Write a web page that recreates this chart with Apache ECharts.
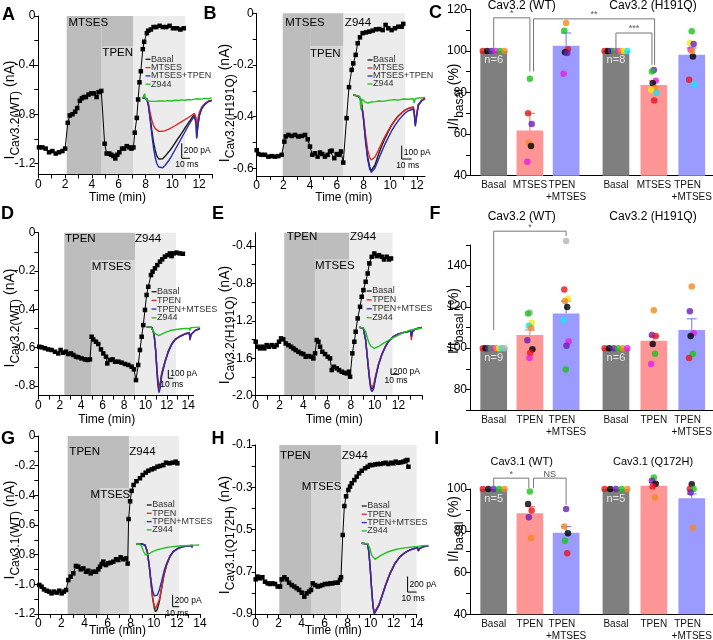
<!DOCTYPE html>
<html><head><meta charset="utf-8">
<script src="https://cdn.jsdelivr.net/npm/echarts@6/dist/echarts.min.js"></script>
<style>html,body{margin:0;padding:0;background:#fff}#c{width:713px;height:640px}</style>
</head><body><div id="c"></div>
<script>
// ================= DATA =================
// time courses [min, nA]
const tcA = [[0.05,-1.07],[0.3,-1.07],[0.55,-1.08],[0.8,-1.11],[1.05,-1.10],[1.3,-1.12],[1.55,-1.11],[1.8,-1.10],[2.0,-1.08],[2.2,-0.87],[2.35,-0.81],[2.55,-0.80],[2.75,-0.78],[2.9,-0.75],[3.1,-0.69],[3.25,-0.67],[3.4,-0.66],[3.55,-0.66],[3.75,-0.64],[3.95,-0.63],[4.15,-0.63],[4.35,-0.66],[4.5,-0.62],[4.7,-0.61],[4.95,-1.04],[5.1,-1.12],[5.3,-1.12],[5.45,-1.13],[5.6,-1.14],[5.75,-1.16],[5.9,-1.13],[6.05,-1.11],[6.25,-1.08],[6.4,-1.08],[6.6,-1.06],[6.8,-1.07],[6.95,-1.08],[7.1,-1.07],[7.2,-0.95],[7.35,-0.83],[7.45,-0.68],[7.55,-0.54],[7.65,-0.45],[7.8,-0.27],[7.9,-0.21],[8.1,-0.14],[8.2,-0.12],[8.4,-0.11],[8.6,-0.09],[8.8,-0.09],[9.05,-0.08],[9.3,-0.09],[9.55,-0.09],[9.8,-0.08],[10.05,-0.10],[10.35,-0.10],[10.6,-0.11],[10.85,-0.10]];
const tcB = [[0,-0.53],[0.12,-0.545],[0.37,-0.548],[0.62,-0.548],[0.87,-0.555],[1.12,-0.553],[1.37,-0.555],[1.62,-0.553],[1.87,-0.548],[2.07,-0.497],[2.17,-0.477],[2.37,-0.471],[2.62,-0.475],[2.87,-0.471],[3.12,-0.477],[3.37,-0.475],[3.62,-0.471],[3.82,-0.488],[3.99,-0.516],[4.16,-0.548],[4.36,-0.542],[4.56,-0.555],[4.74,-0.539],[4.91,-0.545],[5.11,-0.555],[5.31,-0.548],[5.49,-0.535],[5.61,-0.532],[5.81,-0.561],[5.99,-0.545],[6.16,-0.548],[6.31,-0.535],[6.48,-0.578],[6.73,-0.406],[6.91,-0.286],[7.11,-0.219],[7.23,-0.194],[7.41,-0.161],[7.56,-0.116],[7.73,-0.093],[7.93,-0.077],[8.18,-0.074],[8.43,-0.071],[8.68,-0.067],[8.93,-0.062],[9.18,-0.061],[9.43,-0.065],[9.65,-0.045],[9.85,-0.058],[10.1,-0.065],[10.35,-0.058],[10.6,-0.052],[10.85,-0.052],[10.97,-0.041]];
const tcD = [[0.09,-0.595],[0.31,-0.598],[0.62,-0.603],[0.93,-0.609],[1.24,-0.612],[1.56,-0.621],[1.87,-0.63],[2.08,-0.612],[2.33,-0.626],[2.58,-0.621],[2.8,-0.633],[3.05,-0.63],[3.27,-0.638],[3.52,-0.647],[3.73,-0.65],[4.04,-0.656],[4.36,-0.661],[4.57,-0.664],[4.82,-0.661],[4.98,-0.543],[5.13,-0.557],[5.38,-0.569],[5.6,-0.581],[5.85,-0.609],[6.07,-0.63],[6.32,-0.647],[6.44,-0.682],[6.69,-0.664],[6.94,-0.661],[7.16,-0.673],[7.47,-0.673],[7.78,-0.678],[8.09,-0.685],[8.4,-0.69],[8.71,-0.699],[8.93,-0.713],[9.12,-0.769],[9.33,-0.69],[9.49,-0.612],[9.65,-0.543],[9.8,-0.482],[9.96,-0.403],[10.11,-0.325],[10.27,-0.282],[10.52,-0.221],[10.67,-0.203],[10.89,-0.186],[11.11,-0.169],[11.36,-0.151],[11.57,-0.139],[11.82,-0.125],[12.07,-0.117],[12.29,-0.108],[12.45,-0.122],[12.66,-0.108],[12.91,-0.104],[13.2,-0.108],[13.5,-0.11]];
const tcE = [[0,-1.424],[0.17,-1.477],[0.36,-1.495],[0.56,-1.477],[0.73,-1.495],[0.92,-1.46],[1.12,-1.477],[1.34,-1.46],[1.57,-1.477],[1.76,-1.46],[1.96,-1.424],[2.13,-1.388],[2.32,-1.399],[2.52,-1.442],[2.75,-1.46],[2.97,-1.477],[3.17,-1.495],[3.36,-1.513],[3.59,-1.531],[3.81,-1.548],[4.01,-1.556],[4.2,-1.584],[4.43,-1.577],[4.65,-1.584],[4.85,-1.602],[4.99,-1.548],[5.13,-1.406],[5.27,-1.424],[5.41,-1.477],[5.6,-1.531],[5.83,-1.556],[6.05,-1.584],[6.25,-1.602],[6.39,-1.726],[6.58,-1.691],[6.81,-1.708],[7.0,-1.726],[7.23,-1.744],[7.45,-1.755],[7.65,-1.762],[7.84,-1.744],[7.93,-1.797],[8.12,-1.548],[8.29,-1.424],[8.4,-1.317],[8.57,-1.175],[8.77,-1.051],[8.91,-0.944],[9.05,-0.873],[9.24,-0.784],[9.41,-0.695],[9.55,-0.588],[9.75,-0.517],[9.97,-0.482],[10.17,-0.51],[10.36,-0.5],[10.59,-0.517],[10.78,-0.546],[11.0,-0.517],[11.2,-0.546],[11.37,-0.535]];
const tcG = [[0.09,-1.004],[0.29,-1.016],[0.49,-1.034],[0.72,-1.043],[0.95,-1.049],[1.15,-1.061],[1.36,-1.049],[1.59,-1.056],[1.82,-1.043],[2.02,-1.061],[2.22,-1.049],[2.4,-1.038],[2.6,-0.971],[2.8,-0.948],[3.03,-0.926],[3.26,-0.876],[3.46,-0.881],[3.67,-0.899],[3.9,-0.892],[4.13,-0.915],[4.33,-0.908],[4.53,-0.926],[4.76,-0.915],[4.99,-0.915],[5.2,-0.899],[5.34,-0.881],[5.49,-0.863],[5.63,-0.847],[5.86,-0.87],[6.06,-0.858],[6.26,-0.854],[6.5,-0.847],[6.73,-0.831],[6.93,-0.836],[7.13,-0.818],[7.36,-0.831],[7.59,-0.825],[7.74,-0.86],[7.82,-0.56],[7.95,-0.44],[8.08,-0.37],[8.25,-0.33],[8.5,-0.305],[8.8,-0.285],[9.04,-0.263],[9.3,-0.247],[9.53,-0.234],[9.82,-0.225],[10.05,-0.218],[10.31,-0.207],[10.54,-0.202],[10.83,-0.196],[11.06,-0.18],[11.35,-0.184],[11.63,-0.18],[11.89,-0.173],[12.04,-0.184]];
const tcH = [[0,-0.736],[0.17,-0.723],[0.38,-0.731],[0.58,-0.726],[0.81,-0.747],[1.04,-0.755],[1.25,-0.758],[1.45,-0.755],[1.68,-0.758],[1.91,-0.77],[2.12,-0.77],[2.26,-0.736],[2.49,-0.726],[2.7,-0.736],[2.9,-0.752],[3.13,-0.763],[3.36,-0.77],[3.57,-0.778],[3.77,-0.786],[4.0,-0.799],[4.23,-0.818],[4.43,-0.802],[4.64,-0.794],[4.81,-0.786],[4.96,-0.755],[5.16,-0.763],[5.39,-0.77],[5.59,-0.767],[5.8,-0.763],[6.03,-0.758],[6.26,-0.758],[6.46,-0.755],[6.67,-0.755],[6.9,-0.752],[7.13,-0.752],[7.33,-0.739],[7.42,-0.726],[7.57,-0.526],[7.71,-0.389],[7.86,-0.343],[8.06,-0.313],[8.2,-0.297],[8.35,-0.281],[8.58,-0.266],[8.78,-0.25],[8.99,-0.234],[9.22,-0.222],[9.51,-0.21],[9.74,-0.203],[9.94,-0.195],[10.14,-0.195],[10.38,-0.192],[10.61,-0.19],[10.84,-0.19],[11.1,-0.187],[11.3,-0.184],[11.54,-0.19],[11.77,-0.184],[11.97,-0.187],[12.17,-0.179],[12.41,-0.184],[12.64,-0.182],[12.84,-0.179],[13.04,-0.174],[13.19,-0.171],[13.28,-0.203]];

// drug application times [start1, start2, start3, end] (min) and level of the upper band (nA)
const shadeA = [2.12, 4.73, 7.1, 10.96],  bandA = -0.25;
const shadeB = [1.95, 4.0, 6.5, 11.1],    bandB = -0.129;
const shadeD = [2.43, 4.92, 9.03, 12.86], bandD = -0.142;
const shadeE = [2.4, 4.98, 7.86, 11.5],   bandE = -0.55;
const shadeG = [2.54, 5.34, 7.85, 12.18], bandG = -0.35;
const shadeH = [2.05, 4.81, 7.42, 14.0],  bandH = -0.274;

// tick values
const xTicks12 = [0,1,2,3,4,5,6,7,8,9,10,11,12,13];
const xLabels12 = [0,2,4,6,8,10,12];
const xTicks14 = [0,1,2,3,4,5,6,7,8,9,10,11,12,13,14];
const xLabels14 = [0,2,4,6,8,10,12,14];
const yTicksA = [0,-0.2,-0.4,-0.6,-0.8,-1.0,-1.2], yLabelsA = [0,-0.4,-0.8,-1.2];
const yTicksB = [0,-0.1,-0.2,-0.3,-0.4,-0.5,-0.6], yLabelsB = [0,-0.2,-0.4,-0.6];
const yTicksD = [0,-0.1,-0.2,-0.3,-0.4,-0.5,-0.6,-0.7,-0.8], yLabelsD = [0,-0.2,-0.4,-0.6,-0.8];
const yTicksE = [-0.4,-0.6,-0.8,-1.0,-1.2,-1.4,-1.6,-1.8,-2.0], yLabelsE = [-0.4,-0.8,-1.2,-1.6,-2.0];
const yTicksG = [0,-0.1,-0.2,-0.3,-0.4,-0.5,-0.6,-0.7,-0.8,-0.9,-1.0,-1.1,-1.2], yLabelsG = [0,-0.2,-0.4,-0.6,-0.8,-1.0,-1.2];
const yTicksH = [-0.1,-0.2,-0.3,-0.4,-0.5,-0.6,-0.7,-0.8,-0.9], yLabelsH = [-0.1,-0.3,-0.5,-0.7,-0.9];
const yTicksC = [40,50,60,70,80,90,100,110,120], yLabelsC = [40,60,80,100,120];
const yTicksF = [70,80,90,100,110,120,130,140,150], yLabelsF = [80,100,120,140];
const yTicksI = [40,50,60,70,80,90,100], yLabelsI = [40,60,80,100];

// inset current traces [ms, pA]
const insA_basal = [[0,0],[4.8,-9],[6.8,-89],[8.8,-244],[10.8,-422],[12.8,-578],[14.8,-689],[16.8,-769],[19.2,-813],[21.6,-822],[24,-809],[26.8,-778],[30.8,-724],[34.8,-667],[38.8,-600],[42.8,-533],[46.8,-467],[50.8,-400],[54.8,-333],[58.8,-267],[62,-222],[63.2,-209],[64,-311],[64.8,-520],[66,-378],[68,-222],[70.8,-133],[74.8,-76],[78.8,-44],[82.8,-31]];
const insA_drug1 = [[0,0],[4.8,-9],[6.8,-70],[8.8,-190],[10.8,-290],[12.8,-360],[14.8,-405],[16.8,-430],[19.2,-445],[21.6,-448],[24,-444],[26.8,-435],[30.8,-418],[34.8,-395],[38.8,-370],[42.8,-342],[46.8,-315],[50.8,-288],[54.8,-260],[58.8,-232],[62,-205],[63.2,-198],[64,-260],[64.8,-380],[66,-290],[68,-190],[70.8,-120],[74.8,-70],[78.8,-40],[82.8,-28]];
const insA_drug2 = [[0,0],[4.8,-9],[6.8,-100],[8.8,-275],[10.8,-475],[12.8,-650],[14.8,-780],[16.8,-870],[19.2,-920],[21.6,-940],[24,-930],[26.8,-900],[30.8,-840],[34.8,-770],[38.8,-690],[42.8,-610],[46.8,-530],[50.8,-450],[54.8,-370],[58.8,-295],[62,-245],[63.2,-235],[64,-340],[64.8,-540],[66,-400],[68,-240],[70.8,-145],[74.8,-85],[78.8,-50],[82.8,-35]];
const insA_z944 = [[0,0],[1.6,5],[2.4,60],[3.2,-10],[4.8,-20],[6.8,-40],[8.8,-50],[10.8,-45],[12.8,-55],[14.8,-45],[16.8,-50],[19.2,-40],[21.6,-48],[24,-38],[26.8,-42],[30.8,-35],[34.8,-40],[38.8,-30],[42.8,-34],[46.8,-25],[50.8,-30],[54.8,-20],[58.8,-25],[62,-15],[64,-30],[66,-10],[70.8,-15],[74.8,-5],[78.8,-10],[82.8,5]];
const insB_basal = [[0,0],[5,-8],[7.7,-38],[10,-163],[12.3,-338],[14.3,-463],[16.4,-538],[18,-568],[19.7,-563],[21.7,-525],[25,-450],[28.4,-383],[31.7,-325],[35,-275],[38.4,-225],[41.7,-188],[45,-158],[48.4,-133],[51.7,-113],[55,-100],[60,-93],[61,-138],[62,-225],[63.4,-150],[65,-70],[68.4,-40],[71.7,-25]];
const insB_drug1 = [[0,0],[5,-8],[7.7,-35],[10,-150],[12.3,-300],[14.3,-410],[16.4,-470],[18,-487],[19.7,-487],[21.7,-465],[25,-415],[28.4,-360],[31.7,-310],[35,-265],[38.4,-225],[41.7,-190],[45,-160],[48.4,-135],[51.7,-115],[55,-100],[60,-88],[61,-130],[62,-210],[63.4,-145],[65,-70],[68.4,-38],[71.7,-22]];
const insB_drug2 = [[0,0],[5,-8],[7.7,-40],[10,-170],[12.3,-350],[14.3,-480],[16.4,-555],[18,-580],[19.7,-578],[21.7,-548],[25,-485],[28.4,-425],[31.7,-368],[35,-318],[38.4,-268],[41.7,-228],[45,-192],[48.4,-162],[51.7,-137],[55,-118],[60,-105],[61,-150],[62,-235],[63.4,-160],[65,-80],[68.4,-45],[71.7,-28]];
const insB_z944 = [[0,0],[4,-5],[6.5,-10],[7.7,-110],[8.5,-30],[10,-45],[12,-55],[15,-60],[18,-52],[22,-50],[26,-45],[30,-48],[35,-40],[40,-35],[45,-38],[50,-30],[55,-32],[60,-28],[61,-60],[62,-25],[66,-22],[71.7,-18]];
const insD_basal = [[0,0],[10,-8],[14.6,-80],[18,-280],[20.6,-520],[22.6,-660],[24.6,-720],[27,-680],[30,-560],[36.6,-413],[43.2,-293],[50,-205],[56.6,-153],[66.6,-113],[76.6,-85],[85.2,-73],[86.6,-153],[88.6,-93],[96.6,-45],[106.6,-21]];
const insD_drug1 = [[0,0],[10,-8],[14.6,-82],[18,-285],[20.6,-530],[22.6,-680],[24.6,-745],[27,-700],[30,-570],[36.6,-418],[43.2,-296],[50,-207],[56.6,-155],[66.6,-114],[76.6,-86],[85.2,-74],[86.6,-165],[88.6,-95],[96.6,-46],[106.6,-22]];
const insD_drug2 = [[0,0],[10,-8],[14.6,-90],[18,-300],[20.6,-560],[22.6,-720],[24.6,-790],[27,-740],[30,-590],[36.6,-430],[43.2,-305],[50,-215],[56.6,-160],[66.6,-118],[76.6,-88],[85.2,-75],[86.6,-150],[88.6,-95],[96.6,-48],[106.6,-22]];
const insD_z944 = [[0,0],[4,12],[8,-5],[12,-40],[16,-80],[20,-100],[24,-108],[28,-95],[34,-78],[40,-62],[48,-46],[56,-36],[66,-28],[76,-22],[85,-20],[86.6,-45],[88,-12],[96,-8],[106.6,-5]];
const insE_basal = [[0,0],[5,-33],[7.9,-420],[10.4,-1090],[12.5,-1645],[14.2,-1980],[15.8,-2060],[17.9,-1980],[20.4,-1645],[23.8,-1255],[27.9,-920],[32.1,-665],[36.2,-475],[42.5,-310],[48.7,-220],[55,-175],[61.2,-140],[64.2,-110],[65,-330],[66.2,-140],[69.6,-65],[73.7,-33],[77.9,0]];
const insE_drug1 = [[0,0],[5,-33],[7.9,-400],[10.4,-1050],[12.5,-1590],[14.2,-1920],[15.8,-1990],[17.9,-1920],[20.4,-1600],[23.8,-1230],[27.9,-905],[32.1,-655],[36.2,-470],[42.5,-305],[48.7,-220],[55,-172],[61.2,-140],[64.2,-115],[65,-420],[66.2,-150],[69.6,-65],[73.7,-33],[77.9,0]];
const insE_drug2 = [[0,0],[5,-33],[7.9,-440],[10.4,-1130],[12.5,-1700],[14.2,-2050],[15.8,-2147],[17.9,-2050],[20.4,-1690],[23.8,-1280],[27.9,-935],[32.1,-675],[36.2,-480],[42.5,-315],[48.7,-225],[55,-178],[61.2,-145],[64.2,-115],[65,-300],[66.2,-140],[69.6,-65],[73.7,-33],[77.9,0]];
const insE_z944 = [[0,0],[5,-20],[8,-150],[10.4,-380],[12.5,-540],[15,-640],[18.7,-700],[21,-690],[24,-640],[28,-570],[32,-500],[36,-440],[40.5,-367],[46,-300],[53,-200],[60,-130],[64.2,-90],[65,-120],[66.2,-80],[72,-50],[77.9,-30]];
const insG_basal = [[0,0],[8.5,0],[13.5,-17],[17,-132],[20,-390],[22.5,-676],[25,-935],[27.5,-1107],[29.5,-1164],[32,-1124],[35,-992],[38.5,-763],[42,-533],[46,-361],[51,-218],[56,-132],[63.5,-75],[71,-46],[78.5,-34],[82,-28],[84,-40],[85,-25]];
const insG_drug1 = [[0,0],[8.5,0],[13.5,-17],[17,-132],[20,-390],[22.5,-670],[25,-920],[27.5,-1070],[29.5,-1107],[32,-1080],[35,-960],[38.5,-745],[42,-525],[46,-355],[51,-215],[56,-130],[63.5,-74],[71,-46],[78.5,-34],[82,-27],[84,-38],[85,-24]];
const insG_drug2 = [[0,0],[8.5,0],[13.5,-17],[17,-130],[20,-380],[22.5,-620],[25,-810],[27.5,-890],[29.5,-906],[32,-880],[35,-790],[38.5,-640],[42,-470],[46,-330],[51,-205],[56,-128],[63.5,-72],[71,-45],[78.5,-34],[82,-25],[84,-60],[85,-20]];
const insG_z944 = [[0,0],[2,20],[5,0],[8.5,-40],[11,-120],[14.5,-190],[18,-180],[22,-150],[26,-125],[30,-105],[35,-90],[40,-75],[46,-60],[52,-50],[58,-42],[65,-35],[72,-30],[80,-25],[88,-20],[95,-18]];
const insH_basal = [[0,0],[6.7,-9],[8.1,-128],[9.6,-341],[11.1,-597],[12.6,-811],[14.1,-896],[16.3,-875],[19.2,-789],[22.9,-661],[26.6,-533],[31.5,-384],[37,-256],[42.6,-171],[48.1,-119],[53.6,-85],[59.2,-64],[62.1,-55],[62.9,-94],[64.7,-64],[68.4,-43],[74,-34]];
const insH_drug1 = [[0,0],[6.7,-9],[8.1,-125],[9.6,-335],[11.1,-590],[12.6,-800],[14.1,-885],[16.3,-868],[19.2,-780],[22.9,-652],[26.6,-525],[31.5,-378],[37,-252],[42.6,-168],[48.1,-117],[53.6,-84],[59.2,-63],[62.1,-54],[62.9,-90],[64.7,-62],[68.4,-42],[74,-33]];
const insH_drug2 = [[0,0],[6.7,-9],[8.1,-130],[9.6,-345],[11.1,-605],[12.6,-820],[14.1,-902],[16.3,-880],[19.2,-795],[22.9,-668],[26.6,-540],[31.5,-390],[37,-260],[42.6,-174],[48.1,-121],[53.6,-86],[59.2,-65],[62.1,-56],[62.9,-100],[64.7,-66],[68.4,-44],[74,-35]];
const insH_z944 = [[0,0],[6.7,-5],[9,-60],[11,-150],[14.8,-205],[17,-190],[20,-165],[24,-140],[28,-115],[33,-95],[38,-80],[44,-65],[50,-55],[56,-48],[62,-40],[62.9,-55],[64,-35],[68,-30],[74,-28]];

// bar charts: categories, means, SEM, individual cells (values + cell id letters)
const catsC = ['Basal', 'MTSES', 'TPEN   \n+MTSES'];
const catsF = ['Basal', 'TPEN', 'TPEN   \n+MTSES'];
const meanC_WT = [100, 61.7, 102.5],  semC_WT = [0, 8.3, 6.1];
const meanC_H  = [100, 83.6, 98.2],   semC_H  = [0, 2.0, 3.2];
const meanF_WT = [100, 106.4, 116.8], semF_WT = [0, 2.4, 6.0];
const meanF_H  = [100, 103.6, 108.8], semF_H  = [0, 2.2, 5.4];
const meanI_WT = [100, 88.4, 79.0],   semI_WT = [0, 3.2, 3.0];
const meanI_Q  = [100, 101.5, 95.6],  semI_Q  = [0, 1.5, 2.0];

const cWT_basal_id = 'rkpmgo';
const cWT_mtses = [86.6, 70.0, 64.9, 55.9, 54.3, 46.7], cWT_mtses_id = 'grpokm';
const cWT_tm = [113.4, 109.7, 100.8, 99.3, 99.0, 89.0], cWT_tm_id = 'ogrkpm';
const cH_basal_id = 'rkpgmoyc';
const cH_mtses = [90.8, 90.1, 85.6, 84.5, 82.1, 81.3, 79.7, 76.1], cH_mtses_id = 'pgmkoycr';
const cH_tm = [109.4, 103.8, 103.3, 100.6, 97.3, 86.1, 83.7, 100.0], cH_tm_id = 'gypmkrco';
const fWT_basal_id = 'rkpgmoycs';
const fWT_tpen = [117.3, 116.8, 112.3, 110.8, 109.9, 103.8, 99.5, 97.6, 95.2], fWT_tpen_id = 'sgycopkrm';
const fWT_tm = [152.0, 128.4, 124.0, 122.8, 120.0, 113.6, 103.2, 101.1, 89.6], fWT_tm_id = 'sryokcmpg';
const fH_basal_id = 'rkpgom';
const fH_tpen = [118.4, 106.4, 105.9, 102.0, 97.3, 92.3], fH_tpen_id = 'oprkgm';
const fH_tm = [129.9, 117.9, 107.2, 105.9, 97.3, 95.2], fH_tm_id = 'opmkgr';
const iWT_basal_id = 'rkpgo';
const iWT_tpen = [98.8, 92.8, 89.7, 86.5, 76.5], iWT_tpen_id = 'gkrpo';
const iWT_tm = [90.4, 82.0, 78.8, 75.2, 69.2], iWT_tm_id = 'pokgr';
const iQ_basal_id = 'rkpgo';
const iQ_tpen = [105.5, 103.9, 102.5, 101.2, 95.9], iQ_tpen_id = 'gpkro';
const iQ_tm = [102.3, 100.0, 100.0, 98.3, 81.5], iQ_tm_id = 'krgpo';

// ================= STYLE / BUILD =================
const FONT = "'Liberation Sans', Arial, Helvetica, sans-serif";
const SHADE = ['#bdbdbd', '#d5d5d5', '#ececec'];
const TRACE = ['#1a1a1a', '#e02828', '#2a2ab4', '#22c222'];
const BAR = ['#7f7f7f', '#ff9595', '#9a9aff'];
const ERR = ['#7f7f7f', '#f07070', '#7070f0'];
const CELL = {r:'#e8141c', k:'#000000', p:'#6a1fb0', m:'#e61ee6', g:'#18c418', o:'#f28a1e', y:'#f2ea14', c:'#14e6f2', s:'#b4b4b4'};

const option = {animation:false, backgroundColor:'#fff', grid:[], xAxis:[], yAxis:[], series:[]};
function addGrid(l, t, r, b){ option.grid.push({left:l, top:t, width:r-l, height:b-t, containLabel:false, outerBoundsMode:'none', show:false}); return option.grid.length-1; }
function addX(o){ option.xAxis.push(o); return option.xAxis.length-1; }
function addY(o){ option.yAxis.push(o); return option.yAxis.length-1; }
const fmt1 = v => (Math.abs(v) < 1e-9 ? '0' : v.toFixed(1));

function timePanel(box, xmax, ymin, ymax, xt, xl, yt, yl, data, shade, band){
  const gi = addGrid(box[0], box[1], box[2], box[3]);
  const xi = addX({type:'value', gridIndex:gi, min:0, max:xmax,
    axisLine:{show:true, onZero:false, lineStyle:{color:'#000', width:1}},
    axisTick:{show:true, length:4, customValues:xt, lineStyle:{color:'#000'}},
    axisLabel:{show:true, customValues:xl, margin:4, fontSize:12, color:'#000', fontFamily:FONT},
    splitLine:{show:false}});
  const yi = addY({type:'value', gridIndex:gi, min:ymin, max:ymax,
    axisLine:{show:true, onZero:false, lineStyle:{color:'#000', width:1}},
    axisTick:{show:true, length:4, customValues:yt, lineStyle:{color:'#000'}},
    axisLabel:{show:true, customValues:yl, formatter:fmt1, margin:3, fontSize:12, color:'#000', fontFamily:FONT},
    splitLine:{show:false}});
  const rects = [[shade[0], shade[1], ymax, ymin, 0], [shade[1], shade[2], ymax, band, 0],
                 [shade[1], shade[2], band, ymin, 1], [shade[2], shade[3], ymax, ymin, 2]];
  option.series.push({type:'custom', xAxisIndex:xi, yAxisIndex:yi, z:0, silent:true, data:rects,
    renderItem:(p, api) => { const a = api.coord([api.value(0), api.value(2)]), b = api.coord([api.value(1), api.value(3)]);
      return {type:'rect', shape:{x:a[0], y:a[1], width:b[0]-a[0], height:b[1]-a[1]}, style:{fill:SHADE[api.value(4)]}}; }});
  option.series.push({type:'line', xAxisIndex:xi, yAxisIndex:yi, data:data, z:5, clip:false, symbol:'rect', symbolSize:4.5,
    itemStyle:{color:'#000'}, lineStyle:{color:'#000', width:1}, silent:true});
  return gi;
}
function insetPanel(x0, w, ms, base, k, traces){
  const gi = addGrid(x0, base-15, x0+w, base+85);
  const xi = addX({type:'value', gridIndex:gi, min:0, max:ms, show:false});
  const yi = addY({type:'value', gridIndex:gi, min:-85*k, max:15*k, show:false});
  traces.forEach((d, i) => option.series.push({type:'line', xAxisIndex:xi, yAxisIndex:yi, data:d, showSymbol:false, symbol:'none',
    clip:false, z:6+i, lineStyle:{color:TRACE[i], width:1.4}, silent:true}));
  return gi;
}
function barMain(top, bottom, ymin, ymax, yt, yl){
  const gi = addGrid(470, top, 713, bottom);
  addX({type:'value', gridIndex:gi, min:0, max:1, axisLine:{show:true, onZero:false, lineStyle:{color:'#000'}},
    axisTick:{show:false}, axisLabel:{show:false}, splitLine:{show:false}});
  addY({type:'value', gridIndex:gi, min:ymin, max:ymax,
    axisLine:{show:true, onZero:false, lineStyle:{color:'#000'}},
    axisTick:{show:true, length:4, customValues:yt, lineStyle:{color:'#000'}},
    axisLabel:{show:true, customValues:yl, margin:3, fontSize:12, color:'#000', fontFamily:FONT}, splitLine:{show:false}});
  return {top, bottom, ymin, ymax};
}
function jit(i){ return [0, -0.05, 0.05, -0.03, 0.03, -0.07, 0.07, 0.01, -0.01][i % 9]; }
function barGroup(m, left, right, cats, means, sems, nLabel, basalIds, groups){
  const extra = 40, ppu = (m.bottom - m.top) / (m.ymax - m.ymin);
  const gi = addGrid(left, m.top - extra, right, m.bottom);
  const xc = addX({type:'category', gridIndex:gi, data:cats, axisLine:{show:false}, axisTick:{show:false},
    axisLabel:{show:true, margin:4, fontSize:10, color:'#111', fontFamily:FONT, lineHeight:12, interval:0}});
  const xv = addX({type:'value', gridIndex:gi, min:-0.5, max:2.5, show:false});
  const yv = addY({type:'value', gridIndex:gi, min:m.ymin, max:m.ymax + extra/ppu, show:false});
  option.series.push({type:'bar', xAxisIndex:xc, yAxisIndex:yv, barWidth:26.7, z:2, silent:true,
    data: means.map((v, i) => ({value:v, itemStyle:{color:BAR[i]},
      label: i === 0 ? {show:true, position:'insideTop', distance:4, formatter:nLabel, color:'#e6e6e6', fontSize:11, fontFamily:FONT} : {show:false}}))});
  option.series.push({type:'custom', xAxisIndex:xv, yAxisIndex:yv, z:3, silent:true,
    data: means.map((v, i) => [i, v, v + sems[i], i]).filter(d => d[2] > d[1]),
    renderItem:(p, api) => { const a = api.coord([api.value(0), api.value(1)]), b = api.coord([api.value(0), api.value(2)]);
      const c = ERR[api.value(3)];
      return {type:'group', children:[
        {type:'line', shape:{x1:a[0], y1:a[1], x2:b[0], y2:b[1]}, style:{stroke:c, lineWidth:1}},
        {type:'line', shape:{x1:b[0]-5, y1:b[1], x2:b[0]+5, y2:b[1]}, style:{stroke:c, lineWidth:1}}]}; }});
  const pts = [];
  const n = basalIds.length;
  for (let i = 0; i < n; i++) pts.push({value:[-0.3 + 0.6*i/(n-1), 100], itemStyle:{color:CELL[basalIds[i]]}});
  groups.forEach((g, gi2) => g[0].forEach((v, i) => pts.push({value:[gi2 + 1 + jit(i), v], itemStyle:{color:CELL[g[1][i]]}})));
  option.series.push({type:'scatter', xAxisIndex:xv, yAxisIndex:yv, z:4, silent:true, clip:false, symbolSize:6.5, data:pts});
  return {xv, yv};
}

// ---- panels
const gA = timePanel([38.3,16,212.5,174.4], 13, -1.29, 0, xTicks12, xLabels12, yTicksA, yLabelsA, tcA, shadeA, bandA);
const gB = timePanel([256.7,13.3,425,176], 12.6, -0.63, 0, xTicks12.slice(0,13), xLabels12, yTicksB, yLabelsB, tcB, shadeB, bandB);
const gD = timePanel([38.3,232.7,193.6,395.6], 14.5, -0.85, 0, xTicks14, xLabels14, yTicksD, yLabelsD, tcD, shadeD, bandD);
const gE = timePanel([255.7,232.7,422.3,395.7], 14, -2.0, -0.26, xTicks14, xLabels12, yTicksE, yLabelsE, tcE, shadeE, bandE);
const gG = timePanel([38.3,436,200,614], 14, -1.2, 0, xTicks14, xLabels14, yTicksG, yLabelsG, tcG, shadeG, bandG);
const gH = timePanel([255.7,445,416.7,614], 14, -0.9, -0.1, xTicks14, xLabels14, yTicksH, yLabelsH, tcH, shadeH, bandH);

const iA = insetPanel(142.7, 69, 82.8, 98, 13.33, [insA_basal, insA_drug1, insA_drug2, insA_z944]);
const iB = insetPanel(353.3, 71.7, 71.7, 95, 7.5, [insB_basal, insB_drug1, insB_drug2, insB_z944]);
const iD = insetPanel(146.7, 53.3, 106.6, 326.7, 12, [insD_basal, insD_drug1, insD_drug2, insD_z944]);
const iE = insetPanel(359.3, 62.4, 77.9, 327.3, 33.3, [insE_basal, insE_drug1, insE_drug2, insE_z944]);
const iG = insetPanel(136, 63.3, 95, 544, 17.2, [insG_basal, insG_drug1, insG_drug2, insG_z944]);
const iH = insetPanel(361.7, 66.6, 74, 543.3, 12.8, [insH_basal, insH_drug1, insH_drug2, insH_z944]);

const mC = barMain(9.3, 175.7, 40, 120, yTicksC, yLabelsC);
const C1 = barGroup(mC, 475.6, 584.2, catsC, meanC_WT, semC_WT, 'n=6', cWT_basal_id, [[cWT_mtses, cWT_mtses_id], [cWT_tm, cWT_tm_id]]);
const C2 = barGroup(mC, 597, 710.7, catsC, meanC_H, semC_H, 'n=8', cH_basal_id, [[cH_mtses, cH_mtses_id], [cH_tm, cH_tm_id]]);
const mF = barMain(245, 410, 70, 150, yTicksF, yLabelsF);
const F1 = barGroup(mF, 475.6, 584.2, catsF, meanF_WT, semF_WT, 'n=9', fWT_basal_id, [[fWT_tpen, fWT_tpen_id], [fWT_tm, fWT_tm_id]]);
const F2 = barGroup(mF, 597, 710.7, catsF, meanF_H, semF_H, 'n=6', fH_basal_id, [[fH_tpen, fH_tpen_id], [fH_tm, fH_tm_id]]);
const mI = barMain(489, 614.3, 40, 100, yTicksI, yLabelsI);
const I1 = barGroup(mI, 475.6, 584.2, catsF, meanI_WT, semI_WT, 'n=5', iWT_basal_id, [[iWT_tpen, iWT_tpen_id], [iWT_tm, iWT_tm_id]]);
const I2 = barGroup(mI, 597, 710.7, catsF, meanI_Q, semI_Q, 'n=5', iQ_basal_id, [[iQ_tpen, iQ_tpen_id], [iQ_tm, iQ_tm_id]]);

const chart = echarts.init(document.getElementById('c'), null, {renderer:'canvas'});
chart.setOption(option);

// ================= ANNOTATIONS =================
const G = [];
const txt = (x, y, s, size, opt) => G.push(Object.assign({type:'text', x, y, z:50, style:Object.assign({text:s, fill:'#000', font:`${size}px ${FONT}`, align:'center', verticalAlign:'middle'}, (opt||{}).style||{})}, opt && opt.rot ? {rotation:opt.rot} : {}));
const px = (gi, v) => chart.convertToPixel({gridIndex:gi}, v);
const pxa = (ax, v) => chart.convertToPixel({xAxisIndex:ax.xv, yAxisIndex:ax.yv}, v);
// panel letters
[['A',8.5,15],['B',210,14.5],['C',435.5,13.5],['D',7.5,214.5],['E',218,214.5],['F',435,214.5],['G',8,439],['H',218,439],['I',436.7,439.5]]
  .forEach(l => G.push({type:'text', x:l[1], y:l[2], z:50, style:{text:l[0], fill:'#000', font:`bold 18px ${FONT}`, align:'center', verticalAlign:'middle'}}));
// region labels
const regionLabels = [[gA,[['MTSES',2.25,-0.055],['TPEN',4.78,-0.30]]],
  [gB,[['MTSES',2.13,-0.036],['TPEN',3.99,-0.155],['Z944',6.6,-0.036]]],
  [gD,[['TPEN',2.49,-0.034],['MTSES',4.98,-0.18],['Z944',9.03,-0.034]]],
  [gE,[['TPEN',2.6,-0.303],['MTSES',4.98,-0.612],['Z944',7.92,-0.303]]],
  [gG,[['TPEN',2.69,-0.106],['MTSES',4.53,-0.398],['Z944',7.88,-0.106]]],
  [gH,[['TPEN',2.11,-0.152],['MTSES',4.0,-0.297],['Z944',7.48,-0.152]]]];
regionLabels.forEach(([gi, arr]) => arr.forEach(([s, t, v]) => { const p = px(gi, [t, v]); txt(p[0], p[1], s, 11.5, {style:{align:'left'}}); }));
// time axis names
[[117.5,197.5],[343.7,197.3],[106.7,419.3],[334.2,419.3],[117.5,631],[333.3,631]].forEach(p => txt(p[0], p[1], 'Time (min)', 12));
// y axis names (rotated, with subscript)
const richY = {m:{fontSize:14, fontFamily:FONT, fill:'#000', lineHeight:24, verticalAlign:'middle'}, s:{fontSize:12, fontFamily:FONT, fill:'#000', lineHeight:12, verticalAlign:'bottom'}};
const yName = (x, y, sub, unit) => G.push({type:'text', x, y, z:50, rotation:Math.PI/2, style:{text:`{m|I}{s|${sub}}{m| (${unit})}`, rich:richY, align:'center', verticalAlign:'middle', font:`14px ${FONT}`}});
yName(10, 110, 'Cav3.2(WT)', 'nA'); yName(225, 103, 'Cav3.2(H191Q)', 'nA');
yName(10, 318, 'Cav3.2(WT)', 'nA'); yName(225, 325, 'Cav3.2(H191Q)', 'nA');
yName(10, 530, 'Cav3.1(WT)', 'nA'); yName(225, 535, 'Cav3.1(Q172H)', 'nA');
const yNameBar = (x, y) => G.push({type:'text', x, y, z:50, rotation:Math.PI/2, style:{text:'{m|I/I}{s|basal}{m| (%)}', rich:richY, align:'center', verticalAlign:'middle', font:`14px ${FONT}`}});
yNameBar(454, 96.5); yNameBar(454, 321); yNameBar(454, 529);
// bar titles
[['Cav3.2 (WT)',521.7,6,12],['Cav3.2 (H191Q)',653,6,12],['Cav3.2 (WT)',521.7,217,12],['Cav3.2 (H191Q)',653,217,12],['Cav3.1 (WT)',521.7,461.7,11],['Cav3.1 (Q172H)',653,461.7,11]]
  .forEach(t => txt(t[1], t[2], t[0], t[3]));
// inset legends
const legend = (x, y0, dy, names) => names.forEach((s, i) => {
  const y = y0 + i*dy;
  G.push({type:'line', z:50, shape:{x1:x, y1:y, x2:x+5, y2:y}, style:{stroke:TRACE[i], lineWidth:1.3}});
  txt(x+5.5, y, s, 9, {style:{align:'left', fill:'#333'}}); });
const L1 = ['Basal','MTSES','MTSES+TPEN','Z944'], L2 = ['Basal','TPEN','TPEN+MTSES','Z944'];
legend(145.5, 59.3, 8.3, L1); legend(367.5, 60, 8, L1);
legend(151.5, 291.7, 8.7, L2); legend(366.7, 291, 8.9, L2);
legend(146.7, 505, 8.3, L2); legend(361.7, 506, 8.3, L2);
// scale bars
const scale = (gi, c, ms, pa, label) => {
  const p0 = px(gi, c), p1 = px(gi, [c[0], c[1] + pa]), p2 = px(gi, [c[0] + ms, c[1]]);
  G.push({type:'polyline', z:50, shape:{points:[p1, p0, p2]}, style:{stroke:'#000', lineWidth:1, fill:null}});
  txt(p0[0] + 2, (p0[1] + p1[1]) / 2, label, 8.5, {style:{align:'left'}});
  txt((p0[0] + p2[0]) / 2 + 1, p0[1] + 6.5, '10 ms', 8.5);
};
scale(iA, [46.8,-804], 10, 200, '200 pA'); scale(iB, [48.4,-480], 10, 100, '100 pA');
scale(iD, [43.2,-619], 10, 100, '100 pA'); scale(iE, [39.6,-1566], 10, 200, '200 pA');
scale(iG, [55,-1078], 10, 200, '200 pA'); scale(iH, [51,-624], 10, 200, '200 pA');
// significance brackets
const bracket = (groups, a, b, top, s) => {
  const pa = pxa(groups[a[0]], [a[1], a[2]]), pb = pxa(groups[b[0]], [b[1], b[2]]);
  const ta = pxa(groups[a[0]], [a[1], top]);
  G.push({type:'polyline', z:50, shape:{points:[pa, [pa[0], ta[1]], [pb[0], ta[1]], pb]}, style:{stroke:'#777', lineWidth:1, fill:null}});
  txt((pa[0] + pb[0]) / 2, ta[1] - 4, s, 9, {style:{fill:'#555'}});
};
bracket([C1, C2], [0,0,100.6], [0,1,90.1], 115.9, '*');
bracket([C1, C2], [0,1.1,90.1], [1,1.02,93.3], 115.4, '**');
bracket([C1, C2], [1,0,101.4], [1,0.95,93.3], 108.6, '***');
bracket([F1, F2], [0,0,108.8], [0,2,154.3], 156.7, '*');
bracket([I1, I2], [0,0,100.4], [0,0.97,100.4], 105.2, '*');
bracket([I1, I2], [0,1.1,100.4], [0,2,92.4], 105.2, 'NS');

chart.setOption({graphic:G});
</script></body></html>
